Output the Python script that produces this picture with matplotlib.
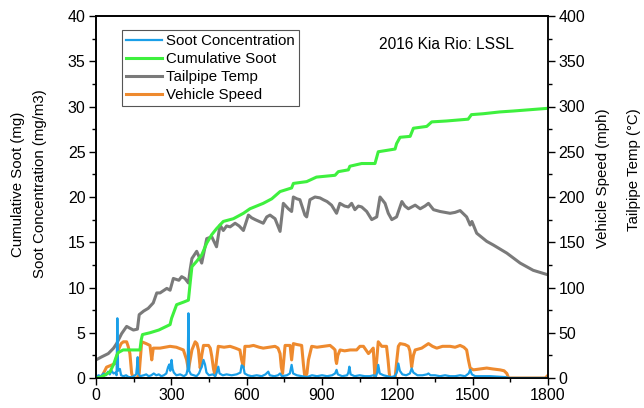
import matplotlib
matplotlib.use("Agg")
import matplotlib.pyplot as plt
from matplotlib.ticker import MultipleLocator

plt.rcParams['font.family'] = ['Liberation Sans', 'DejaVu Sans']

# cumulative soot (mg), left axis
cum_t = [0, 20, 40, 56, 70, 80, 88, 108, 140, 175, 180, 185, 215, 250, 280, 295, 301, 321, 350, 368,
         375, 382, 401, 421, 441, 460, 480, 507, 547, 587, 613, 666, 700, 733, 779, 786, 839, 878, 952,
         965, 1005, 1011, 1058, 1111, 1124, 1191, 1197, 1211, 1251, 1264, 1317, 1337, 1396, 1482, 1495,
         1542, 1608, 1661, 1800]
cum_v = [0, 0.1, 0.4, 0.7, 1.5, 2.3, 2.8, 3.1, 3.1, 3.1, 4.2, 4.8, 5.0, 5.3, 5.7, 5.9, 6.6, 8.1, 8.4, 8.6,
         10.5, 12.3, 12.9, 13.6, 14.9, 15.8, 16.5, 17.3, 17.6, 18.2, 18.7, 19.3, 19.8, 20.6, 21.0, 21.5,
         21.7, 22.2, 22.4, 22.8, 23.0, 23.4, 23.7, 23.7, 25.0, 25.3, 25.9, 26.6, 26.7, 27.6, 27.8, 28.3,
         28.4, 28.6, 29.1, 29.2, 29.4, 29.5, 29.8]

# soot concentration (mg/m3), left axis
conc_t = [0, 10, 20, 30, 40, 48, 55, 62, 70, 78, 82, 85, 88, 95, 100, 110, 120, 130, 140, 150, 160, 163,
          166, 169, 175, 190, 200, 210, 220, 230, 240, 250, 260, 270, 280, 287, 292, 296, 301, 305, 310,
          320, 335, 350, 360, 365, 368, 371, 378, 390, 400, 410, 417, 421, 428, 434, 440, 450, 465, 475,
          481, 487, 492, 505, 520, 540, 560, 575, 580, 587, 592, 605, 620, 640, 660, 675, 686, 692, 710,
          725, 733, 740, 760, 772, 779, 785, 800, 820, 840, 860, 880, 900, 920, 940, 952, 958, 963, 980,
          1000, 1005, 1009, 1014, 1030, 1050, 1070, 1090, 1105, 1115, 1120, 1124, 1130, 1145, 1160, 1175,
          1190, 1198, 1204, 1210, 1220, 1235, 1250, 1257, 1264, 1280, 1300, 1318, 1324, 1332, 1350, 1370,
          1390, 1410, 1430, 1450, 1470, 1484, 1490, 1497, 1510, 1540, 1570, 1600, 1630, 1645, 1800]
conc_v = [0.1, 0.3, 0.2, 0.5, 0.3, 0.7, 0.4, 0.8, 0.5, 0.6, 0.3, 6.6, 0.8, 1.0, 0.3, 0.2, 0.3, 0.1, 0.1,
          0.2, 0.4, 1.2, 2.3, 0.5, 0.2, 0.3, 0.4, 0.2, 0.3, 0.5, 0.3, 0.4, 0.2, 0.3, 0.5, 1.2, 1.5, 0.8,
          2.0, 1.0, 0.6, 0.3, 0.4, 0.2, 0.4, 1.0, 7.15, 0.8, 0.4, 0.3, 0.2, 0.5, 1.0, 1.2, 2.0, 1.5, 0.6,
          0.3, 0.4, 0.2, 0.6, 1.25, 0.5, 0.3, 0.4, 0.3, 0.4, 0.6, 1.4, 1.25, 0.5, 0.3, 0.2, 0.3, 0.2, 0.4,
          0.7, 0.3, 0.2, 0.3, 0.5, 0.2, 0.3, 0.5, 1.45, 0.5, 0.3, 0.2, 0.1, 0.3, 0.2, 0.3, 0.2, 0.3, 0.5,
          0.9, 0.4, 0.2, 0.3, 0.6, 1.25, 0.4, 0.2, 0.3, 0.2, 0.2, 0.3, 0.2, 0.6, 1.45, 0.5, 0.3, 0.2, 0.1,
          0.2, 0.6, 1.6, 0.8, 0.4, 0.3, 0.5, 1.05, 0.6, 0.3, 0.3, 0.4, 0.5, 0.3, 0.3, 0.2, 0.3, 0.2, 0.2,
          0.3, 0.2, 0.5, 0.9, 0.4, 0.2, 0.2, 0.2, 0.15, 0.1, 0.0, 0.0]

# tailpipe temp (C), right axis
temp_t = [0, 20, 49, 70, 82, 102, 122, 135, 149, 165, 172, 190, 208, 228, 242, 255, 282, 295, 308, 330,
          341, 354, 368, 375, 382, 401, 412, 421, 441, 461, 480, 494, 507, 520, 534, 554, 570, 587, 607,
          620, 634, 650, 666, 680, 693, 713, 733, 746, 766, 779, 786, 800, 812, 832, 839, 852, 872, 892,
          905, 920, 938, 958, 971, 990, 1005, 1018, 1031, 1045, 1058, 1078, 1098, 1118, 1131, 1151, 1164,
          1178, 1197, 1218, 1230, 1244, 1271, 1291, 1310, 1324, 1344, 1370, 1410, 1430, 1450, 1476, 1490,
          1497, 1516, 1556, 1582, 1636, 1689, 1741, 1800]
temp_v = [20, 23, 27, 33, 38, 49, 57, 55, 53, 54, 70, 74, 77, 83, 94, 94, 99, 97, 110, 108, 112, 110, 105,
          120, 132, 140, 133, 127, 154, 156, 145, 169, 163, 168, 167, 171, 168, 163, 180, 177, 175, 173,
          171, 178, 180, 176, 162, 193, 187, 184, 200, 198, 197, 180, 178, 197, 200, 199, 197, 195, 191,
          182, 193, 190, 189, 193, 186, 190, 189, 184, 175, 178, 200, 193, 182, 175, 178, 195, 190, 187,
          191, 187, 190, 193, 186, 184, 182, 183, 185, 178, 169, 173, 160, 151, 147, 138, 127, 119, 114]

# vehicle speed (mph), right axis
spd_t = [0, 20, 35, 42, 60, 76, 84, 89, 100, 109, 122, 128, 135, 142, 149, 165, 172, 175, 182, 200, 215,
         222, 228, 255, 275, 295, 320, 348, 361, 368, 375, 382, 395, 402, 408, 415, 421, 428, 448, 455,
         461, 468, 474, 480, 487, 510, 534, 555, 573, 580, 587, 593, 610, 627, 650, 666, 690, 713, 725,
         733, 738, 743, 748, 753, 773, 779, 786, 800, 819, 826, 832, 840, 846, 859, 880, 906, 932, 945,
         952, 955, 958, 963, 972, 990, 1012, 1038, 1051, 1065, 1085, 1095, 1104, 1108, 1111, 1118, 1124,
         1138, 1157, 1163, 1168, 1171, 1191, 1198, 1204, 1211, 1230, 1244, 1250, 1257, 1264, 1271, 1297,
         1324, 1340, 1357, 1380, 1410, 1430, 1450, 1465, 1476, 1483, 1490, 1503, 1530, 1556, 1580, 1609,
         1625, 1636, 1643, 1789, 1800]
spd_v = [0, 0, 8, 12, 14, 16, 25, 31, 38, 40, 40, 35, 27, 5, 0, 0, 5, 16, 40, 38, 36, 20, 33, 33, 34, 35,
         34, 31, 20, 9, 20, 31, 40, 38, 31, 11, 25, 36, 36, 33, 24, 10, 3, 20, 35, 34, 35, 33, 31, 20, 12,
         35, 35, 36, 34, 33, 34, 35, 33, 27, 12, 5, 20, 36, 36, 20, 38, 37, 36, 15, 0, 5, 20, 35, 34, 35,
         36, 33, 31, 20, 16, 25, 31, 30, 31, 31, 35, 35, 27, 30, 33, 15, 0, 20, 40, 35, 35, 20, 5, 0, 0,
         20, 35, 38, 37, 35, 30, 12, 25, 31, 33, 38, 35, 33, 35, 35, 34, 36, 34, 31, 20, 11, 9, 10, 11, 10,
         9, 8, 5, 0, 0, 3]

fig = plt.figure(figsize=(6.44, 4.08), dpi=100)
ax = fig.add_axes([96 / 644, 1 - 378 / 408, 452 / 644, 362 / 408])
ax2 = ax.twinx()

l1, = ax.plot(conc_t, conc_v, color='#1a9fe8', lw=1.6, label='Soot Concentration')
l2, = ax.plot(cum_t, cum_v, color='#3ef03e', lw=2.2, label='Cumulative Soot')
l3, = ax2.plot(temp_t, temp_v, color='#7a7a7a', lw=2.2, label='Tailpipe Temp')
l4, = ax2.plot(spd_t, spd_v, color='#ee8a2e', lw=2.2, label='Vehicle Speed')

ax.set_zorder(ax2.get_zorder() + 1)
ax.patch.set_visible(False)

ax.set_xlim(0, 1800)
ax.set_ylim(0, 40)
ax2.set_ylim(0, 400)
ax.xaxis.set_major_locator(MultipleLocator(300))
ax.xaxis.set_minor_locator(MultipleLocator(150))
ax.yaxis.set_major_locator(MultipleLocator(5))
ax.yaxis.set_minor_locator(MultipleLocator(2.5))
ax2.yaxis.set_major_locator(MultipleLocator(50))
ax2.yaxis.set_minor_locator(MultipleLocator(25))

for a in (ax, ax2):
    a.tick_params(which='major', direction='out', length=5, width=1, labelsize=11.5, pad=2.5)
    a.tick_params(which='minor', direction='out', length=3, width=1)
    for s in a.spines.values():
        s.set_linewidth(1.2)
ax2.spines['right'].set_color('#444444')

# axis titles, two lines each side
W, H = 644, 408
fig.text(18 / W, 1 - 184 / H, 'Cumulative Soot (mg)', rotation=90, ha='center', va='center', fontsize=10.8)
fig.text(40 / W, 1 - 184 / H, 'Soot Concentration (mg/m3)', rotation=90, ha='center', va='center', fontsize=10.8)
fig.text(603 / W, 1 - 108 / H, 'Vehicle Speed (mph)', rotation=90, ha='center', va='top', fontsize=10.8)
fig.text(634 / W, 1 - 108 / H, 'Tailpipe Temp (°C)', rotation=90, ha='center', va='top', fontsize=10.8)

ax.text(1394, 36.8, '2016 Kia Rio: LSSL', ha='center', va='center', fontsize=11.2)

leg = ax.legend(handles=[l1, l2, l3, l4], loc='upper left', bbox_to_anchor=(26 / 452, 1 - 14 / 362),
                fontsize=10.8, fancybox=False, framealpha=1, labelspacing=0.27,
                handlelength=2.4, handletextpad=0.3, borderpad=0.25, borderaxespad=0)
leg.get_frame().set_edgecolor('#555555')
leg.get_frame().set_linewidth(0.8)

fig.savefig('out.png', dpi=100)
